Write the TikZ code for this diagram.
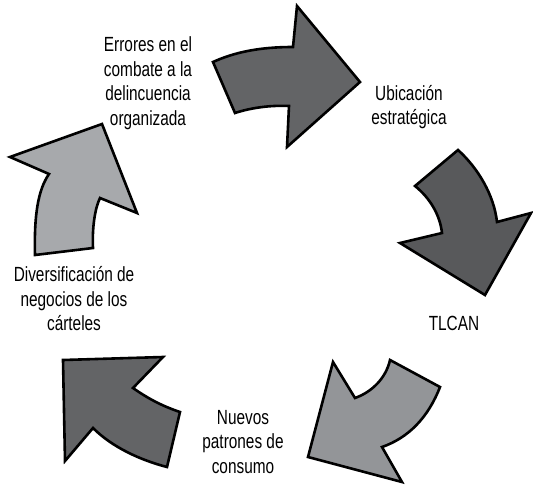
\documentclass[tikz,border=0pt]{standalone}
\usepackage{fontspec}
\setmainfont{Liberation Sans}[FakeStretch=0.75]
\definecolor{gdarkA}{HTML}{636466}
\definecolor{gdarkB}{HTML}{58595B}
\definecolor{glightA}{HTML}{939598}
\definecolor{glightB}{HTML}{A7A9AC}
\begin{document}
\begin{tikzpicture}[x=1pt,y=-1pt,
  arr/.style={draw=black,line width=2.6pt,line join=miter},
  lbl/.style={align=center,font=\fontsize{20.5}{24.5}\selectfont,inner sep=0pt}]
\useasboundingbox (0,0) rectangle (533,485);
% arrow 1 (top)
\path[arr,fill=gdarkA] (213,62) .. controls (235,52) and (260,47) .. (293,47)
  -- (297,6) -- (360,82) -- (287,147) -- (289,106)
  .. controls (270,105) and (250,108) .. (235,113) -- cycle;
% arrow 2 (right)
\path[arr,fill=gdarkB] (415,186) -- (458,150)
  .. controls (478,168) and (494,195) .. (497,222)
  -- (531,213) -- (485,295) -- (400,243) -- (442,233)
  .. controls (440,215) and (430,198) .. (415,186) -- cycle;
% arrow 3 (bottom right)
\path[arr,fill=glightA] (390,360) -- (440,387)
  .. controls (428,418) and (408,438) .. (382,447)
  -- (402,482) -- (308,457) -- (333,362) -- (355,398)
  .. controls (372,392) and (386,378) .. (390,360) -- cycle;
% arrow 4 (bottom left)
\path[arr,fill=gdarkA] (63,360) -- (163,357) -- (133,388)
  .. controls (150,400) and (165,407) .. (180,412)
  -- (167,467)
  .. controls (140,460) and (112,447) .. (93,428)
  -- (65,461) -- cycle;
% arrow 5 (left)
\path[arr,fill=glightB] (35,255) -- (93,248)
  .. controls (92,228) and (95,208) .. (100,198)
  -- (137,213) -- (102,124) -- (10,157) -- (49,174)
  .. controls (38,190) and (34,215) .. (35,255) -- cycle;
% labels
\node[lbl] (errores) at (148,83) {Errores en el\\combate a la\\delincuencia\\organizada};
\node[lbl] (ubicacion) at (409,107) {Ubicación\\estratégica};
\node[lbl] (tlcan) at (454,323) {TLCAN};
\node[lbl] (nuevos) at (243,442) {Nuevos\\patrones de\\consumo};
\node[lbl] (diversif) at (74,299) {Diversificación de\\negocios de los\\cárteles};
\end{tikzpicture}
\end{document}
